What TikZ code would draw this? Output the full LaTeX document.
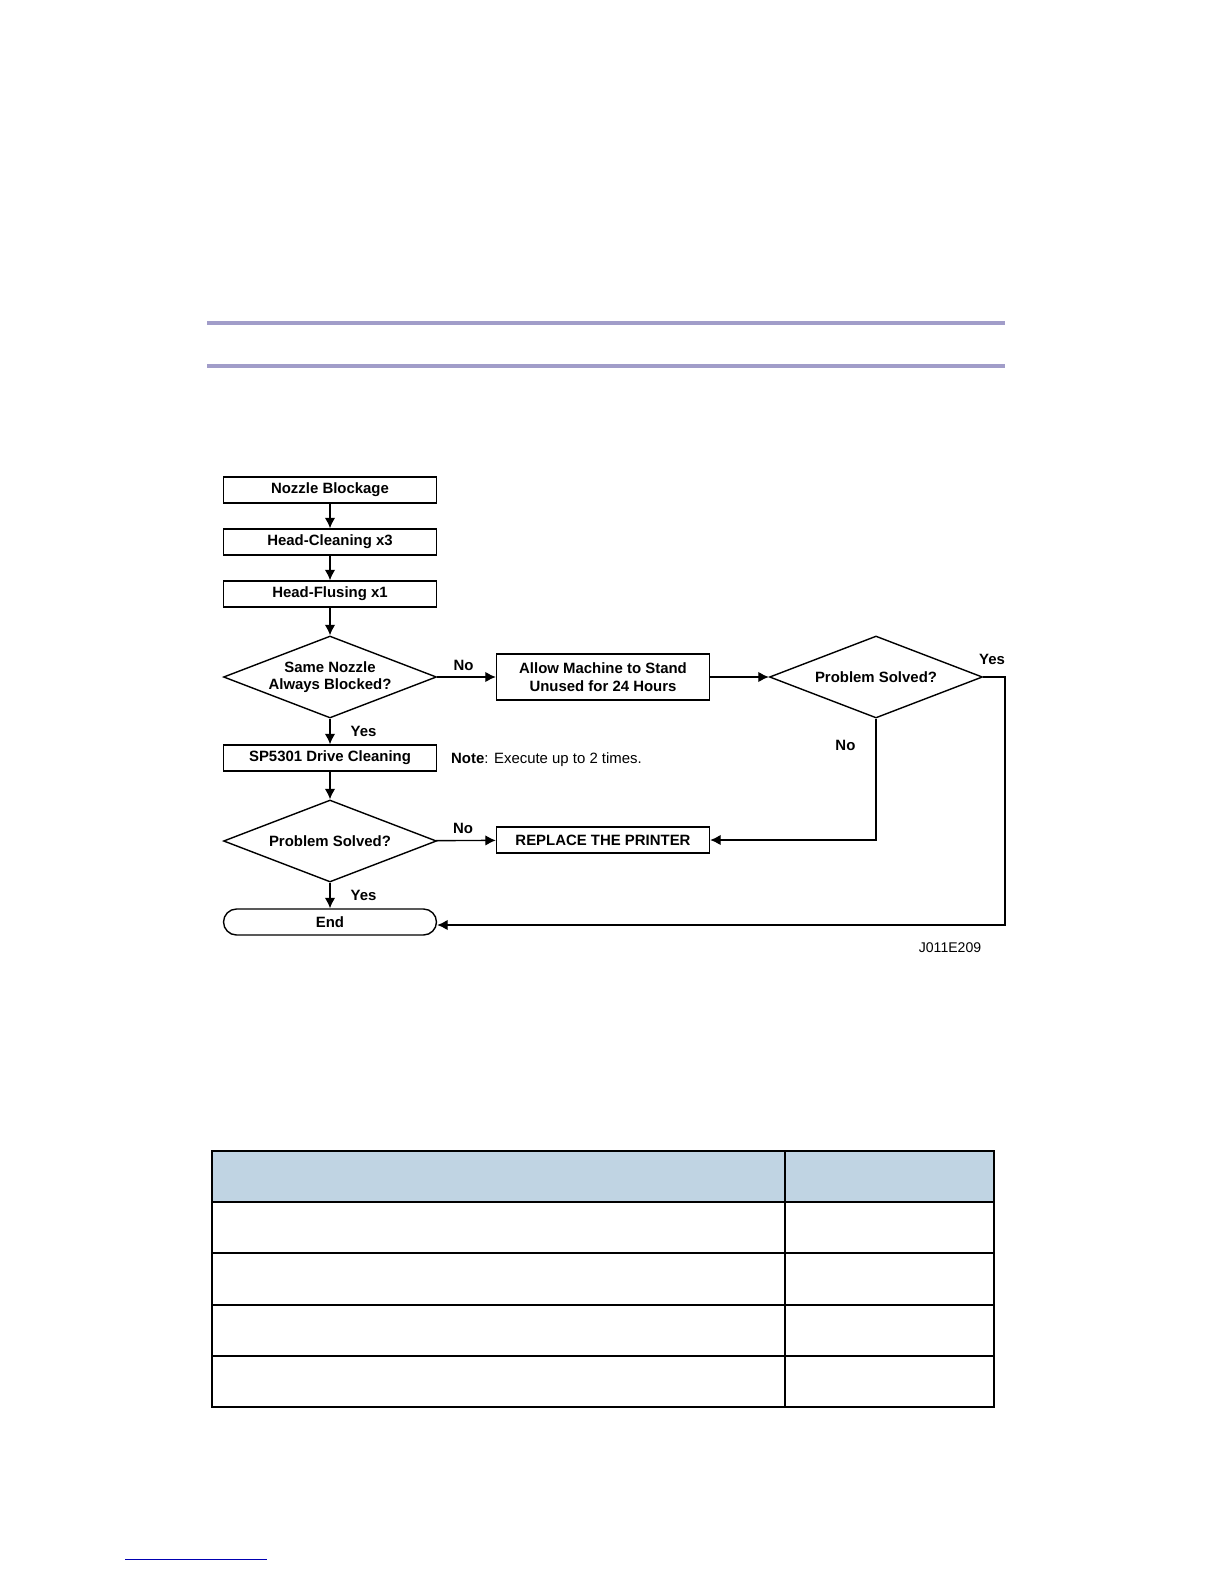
\documentclass[tikz,border=0pt]{standalone}
\usepackage{fontspec}
\setmainfont{Liberation Sans}
\usetikzlibrary{arrows.meta,shapes.geometric}
\definecolor{rulecol}{HTML}{A19DC9}
\definecolor{headcol}{HTML}{C0D4E3}
\tikzset{
  box/.style={draw,thick,minimum width=4.26cm,minimum height=0.52cm,inner sep=1pt,
    font=\fontsize{8.5}{10}\selectfont\bfseries,align=center},
  tallbox/.style={box,minimum height=0.92cm},
  decide/.style={draw,thick,diamond,minimum width=4.26cm,minimum height=1.64cm,aspect=2.6,
    inner sep=0pt,font=\fontsize{8.5}{10}\selectfont\bfseries,align=center},
  endbox/.style={box,rounded corners=0.26cm},
  lab/.style={font=\fontsize{8.5}{10}\selectfont\bfseries},
  flow/.style={thick,-{Latex[length=6pt,width=6pt]}}
}
\begin{document}
\begin{tikzpicture}[x=0.02cm,y=-0.02cm]
  \useasboundingbox (0,0) rectangle (1224,1584);
  %
  % Page rules
  \draw[rulecol,line width=2.3pt] (207,323) -- (1005,323);
  \draw[rulecol,line width=2.3pt] (207,366) -- (1005,366);
  %
  % Flow chart
  \node[box] (nozzle) at (330,490) {Nozzle Blockage};
  \node[box] (clean) at (330,542) {Head-Cleaning x3};
  \node[box] (flush) at (330,594) {Head-Flusing x1};
  \node[decide] (same) at (330,677) {Same Nozzle\\Always Blocked?};
  \node[tallbox] (stand) at (603,677) {Allow Machine to Stand\\Unused for 24 Hours};
  \node[decide] (solvedA) at (876,677) {Problem Solved?};
  \node[box] (drive) at (330,758) {SP5301 Drive Cleaning};
  \node[decide] (solvedB) at (330,841) {Problem Solved?};
  \node[box] (replace) at (603,840) {REPLACE THE PRINTER};
  \node[endbox] (finish) at (330,922) {End};
  \coordinate (yesright) at (1005,677);
  \coordinate (yescorner) at (1005,925);
  \coordinate (nocorner) at (876,840);
  %
  \draw[flow] (nozzle) -- (clean);
  \draw[flow] (clean) -- (flush);
  \draw[flow] (flush) -- (same);
  \draw[flow] (same) -- node[lab,above,pos=0.45] {No} (stand);
  \draw[flow] (stand) -- (solvedA);
  \draw[flow] (same) -- node[lab,right,xshift=8pt] {Yes} (drive);
  \draw[flow] (drive) -- (solvedB);
  \draw[flow] (solvedB) -- node[lab,above,pos=0.45] {No} (replace);
  \draw[flow] (solvedB) -- node[lab,right,xshift=8pt] {Yes} (finish);
  \draw[flow] (solvedA.south) -- node[lab,left,pos=0.22,xshift=-8pt] {No} (nocorner) -- (replace);
  \draw[flow] (solvedA.east) -- (yesright) -- (yescorner) -- (finish.east |- yescorner);
  \node[lab] (yeslab) at (992,659) {Yes};
  %
  % Notes
  \node[anchor=west,font=\fontsize{8.5}{10}\selectfont] (note) at (445,760) {\textbf{Note}: Execute up to 2 times.};
  \node[font=\fontsize{8}{10}\selectfont] (figid) at (950,948) {J011E209};
  %
  % Table
  \fill[headcol] (212,1151) rectangle (994,1202);
  \draw[thick] (212,1151) rectangle (994,1407);
  \draw[thick] (785,1151) -- (785,1407);
  \foreach \y in {1202,1253,1305,1356}
    \draw[thick] (212,\y) -- (994,\y);
  %
  % Footer rule
  \draw[blue!70!black,thin] (125,1559) -- (267,1559);
\end{tikzpicture}
\end{document}
